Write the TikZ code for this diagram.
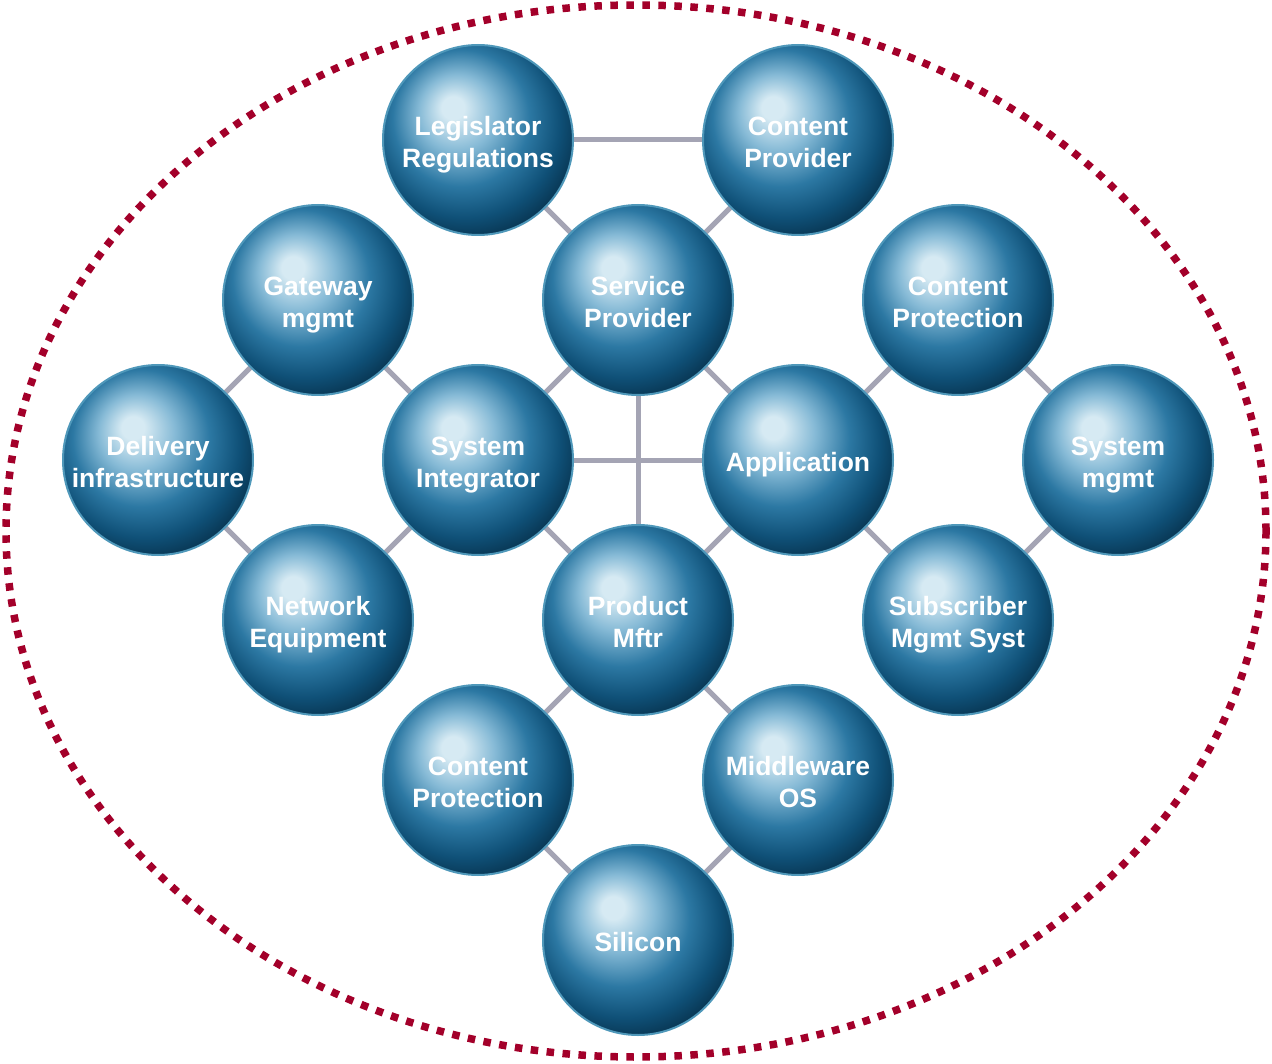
\documentclass[tikz,border=0pt]{standalone}
\usepackage{fontspec}
\setmainfont{Liberation Sans}
\definecolor{c0}{HTML}{D6EAF3}
\definecolor{c1}{HTML}{86BAD6}
\definecolor{c2}{HTML}{2C78A3}
\definecolor{c3}{HTML}{0F5077}
\definecolor{c4}{HTML}{052A42}
\definecolor{c5}{HTML}{021622}
\definecolor{rimc}{HTML}{4F98BA}
\definecolor{linkc}{HTML}{A4A4B4}
\definecolor{dotc}{HTML}{A3002A}
\pgfdeclareradialshading{spherebg}{\pgfpoint{-7bp}{9bp}}{color(0bp)=(c0); color(3bp)=(c0); color(10bp)=(c1); color(18bp)=(c2); color(25bp)=(c3); color(32bp)=(c4); color(39bp)=(c5); color(50bp)=(c5)}
\tikzset{
  ball/.style={circle, minimum size=190pt, inner sep=0pt, shading=spherebg, draw=rimc, line width=2pt,
    label={[ltext]center:\strut #1\strut}},
  ltext/.style={yshift=-5pt, text=white, font=\fontsize{26.5}{32}\selectfont\bfseries, align=center, inner sep=0pt},
  link/.style={draw=linkc, line width=5pt},
  rim/.style={draw=dotc, line width=7.5pt, dash pattern=on 7.5pt off 8.5pt}
}
\begin{document}
\begin{tikzpicture}[x=1pt,y=-1pt]
\useasboundingbox (0,0) rectangle (1272,1064);
\draw[rim] (636,531) ellipse [x radius=630, y radius=526];
% nodes
\coordinate (legp) at (478,140);
\coordinate (cpp) at (798,140);
\coordinate (gwp) at (318,300);
\coordinate (spp) at (638,300);
\coordinate (ctp) at (958,300);
\coordinate (dip) at (158,460);
\coordinate (sip) at (478,460);
\coordinate (app) at (798,460);
\coordinate (smp) at (1118,460);
\coordinate (nep) at (318,620);
\coordinate (pmp) at (638,620);
\coordinate (ssp) at (958,620);
\coordinate (cbp) at (478,780);
\coordinate (mwp) at (798,780);
\coordinate (slp) at (638,940);
\begin{scope}
\draw[link] (legp) -- (cpp);
\draw[link] (legp) -- (spp);
\draw[link] (cpp) -- (spp);
\draw[link] (gwp) -- (dip);
\draw[link] (gwp) -- (sip);
\draw[link] (spp) -- (sip);
\draw[link] (spp) -- (app);
\draw[link] (spp) -- (pmp);
\draw[link] (sip) -- (app);
\draw[link] (ctp) -- (app);
\draw[link] (ctp) -- (smp);
\draw[link] (dip) -- (nep);
\draw[link] (nep) -- (sip);
\draw[link] (sip) -- (pmp);
\draw[link] (pmp) -- (app);
\draw[link] (app) -- (ssp);
\draw[link] (ssp) -- (smp);
\draw[link] (pmp) -- (cbp);
\draw[link] (pmp) -- (mwp);
\draw[link] (cbp) -- (slp);
\draw[link] (mwp) -- (slp);
\end{scope}
\node[ball={Legislator\\Regulations}] (leg) at (legp) {};
\node[ball={Content\\Provider}] (cp) at (cpp) {};
\node[ball={Gateway\\mgmt}] (gw) at (gwp) {};
\node[ball={Service\\Provider}] (sp) at (spp) {};
\node[ball={Content\\Protection}] (ct) at (ctp) {};
\node[ball={Delivery\\infrastructure}] (di) at (dip) {};
\node[ball={System\\Integrator}] (si) at (sip) {};
\node[ball={Application}] (ap) at (app) {};
\node[ball={System\\mgmt}] (sm) at (smp) {};
\node[ball={Network\\Equipment}] (ne) at (nep) {};
\node[ball={Product\\Mftr}] (pm) at (pmp) {};
\node[ball={Subscriber\\Mgmt Syst}] (ss) at (ssp) {};
\node[ball={Content\\Protection}] (cb) at (cbp) {};
\node[ball={Middleware\\OS}] (mw) at (mwp) {};
\node[ball={Silicon}] (sl) at (slp) {};
\end{tikzpicture}
\end{document}
